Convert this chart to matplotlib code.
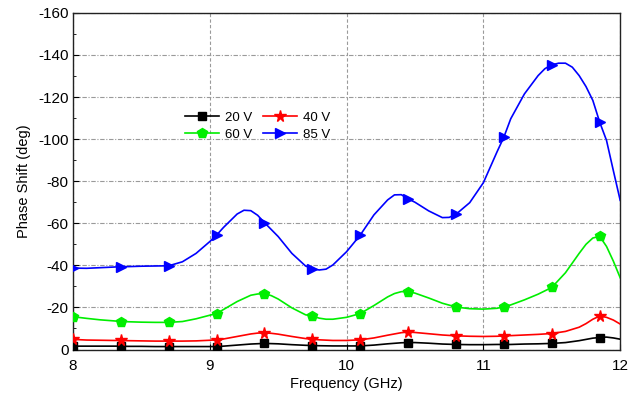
import numpy as np
import matplotlib
matplotlib.use("Agg")
import matplotlib.pyplot as plt
from matplotlib.ticker import MultipleLocator

plt.rcParams['font.family'] = ['Liberation Sans', 'DejaVu Sans']
plt.rcParams['axes.unicode_minus'] = False

# marker positions (GHz) and values read at the markers (deg)
f_mark = [8.0, 8.35, 8.7, 9.05, 9.4, 9.75, 10.1, 10.45, 10.8, 11.15, 11.5, 11.85]
v20_mark = [-1.6, -1.6, -1.4, -1.4, -2.9, -1.9, -1.7, -3.3, -2.4, -2.4, -2.9, -5.7]
v40_mark = [-4.8, -4.3, -4.0, -4.6, -7.9, -4.9, -4.6, -8.3, -6.5, -6.5, -7.6, -15.9]
v60_mark = [-15.6, -13.3, -12.9, -17.1, -26.5, -15.9, -17.1, -27.5, -20.2, -20.3, -29.5, -53.8]
v85_mark = [-38.7, -39.4, -39.8, -54.4, -60.3, -38.4, -54.4, -71.6, -64.3, -101.0, -135.3, -108.1]

# curve read every 0.1 GHz
f_line = [8.0, 8.1, 8.2, 8.3, 8.4, 8.5, 8.6, 8.7, 8.8, 8.9,
          9.0, 9.1, 9.2, 9.3, 9.4, 9.5, 9.6, 9.7, 9.8, 9.9,
          10.0, 10.1, 10.2, 10.3, 10.4, 10.5, 10.6, 10.7, 10.8, 10.9,
          11.0, 11.1, 11.2, 11.3, 11.4, 11.5, 11.6, 11.7, 11.8, 11.9, 12.0]
v20_line = [-1.6, -1.6, -1.6, -1.6, -1.5, -1.5, -1.4, -1.4, -1.4, -1.4,
            -1.4, -1.6, -2.1, -2.6, -2.9, -2.7, -2.3, -2.0, -1.8, -1.7,
            -1.7, -1.7, -2.1, -2.7, -3.2, -3.3, -3.0, -2.6, -2.4, -2.3,
            -2.3, -2.4, -2.4, -2.6, -2.7, -2.9, -3.3, -4.2, -5.4, -5.9, -4.9]
v40_line = [-4.8, -4.5, -4.4, -4.3, -4.2, -4.1, -4.0, -4.0, -4.0, -4.1,
            -4.4, -5.0, -6.2, -7.4, -7.9, -7.3, -6.2, -5.2, -4.6, -4.3,
            -4.3, -4.6, -5.5, -6.8, -8.0, -8.1, -7.5, -6.9, -6.5, -6.3,
            -6.2, -6.3, -6.6, -6.9, -7.2, -7.6, -8.6, -10.6, -14.4, -15.3, -12.1]
v60_line = [-15.6, -14.8, -14.1, -13.6, -13.2, -13.0, -12.9, -12.9, -13.3, -14.6,
            -16.3, -19.0, -22.8, -25.8, -26.5, -24.0, -19.8, -16.5, -14.9, -14.4,
            -15.3, -17.1, -20.9, -25.0, -27.5, -26.8, -24.5, -22.0, -20.2, -19.4,
            -19.2, -19.6, -21.2, -23.6, -26.3, -29.5, -36.5, -45.7, -53.0, -49.0, -34.1]
v85_line = [-38.7, -38.6, -38.9, -39.2, -39.4, -39.6, -39.7, -39.8, -41.7, -45.7,
            -51.3, -58.0, -64.4, -66.0, -60.3, -53.7, -45.7, -39.7, -37.8, -40.2,
            -46.5, -54.4, -64.0, -71.1, -73.6, -70.0, -65.9, -62.7, -64.3, -69.8,
            -79.3, -94.0, -109.7, -121.5, -130.2, -135.3, -136.1, -130.2, -118.4, -99.4, -70.9]

# extra readings near the turning points
f20_extra, v20_extra = [11.85, 11.95], [-5.8, -5.5]
f40_extra, v40_extra = [9.35, 9.45, 10.45, 11.75, 11.95], [-7.8, -7.7, -8.3, -12.3, -14.0]
f60_extra, v60_extra = [9.35, 9.45, 9.85, 10.35, 10.45, 11.75, 11.95], \
                       [-26.4, -25.6, -14.4, -26.6, -27.5, -50.0, -42.0]
f85_extra, v85_extra = [9.25, 9.35, 9.85, 10.35, 10.45, 10.75, 11.45, 11.55, 11.65, 11.75, 11.95], \
                       [-66.2, -63.8, -38.2, -73.5, -71.6, -62.8, -133.5, -136.1, -134.2, -125.0, -85.0]

labels = ['20 V', '40 V', '60 V', '85 V']
colors = ['black', 'red', '#00ee00', 'blue']
markers = ['s', '*', 'p', '>']
msizes = [5.5, 8.5, 7, 7]

fig = plt.figure(figsize=(6.29, 3.96), dpi=100)
ax = fig.add_axes([0.116, 0.1174, 0.870, 0.850])

handles = []
series = zip([v20_line, v40_line, v60_line, v85_line],
             [v20_mark, v40_mark, v60_mark, v85_mark],
             [(f20_extra, v20_extra), (f40_extra, v40_extra), (f60_extra, v60_extra), (f85_extra, v85_extra)],
             labels, colors, markers, msizes)
for vl, vm, (fe, ve), lab, c, mk, ms in series:
    x_all = np.concatenate([f_line, f_mark, fe])
    y_all = np.concatenate([vl, vm, ve])
    o = np.argsort(x_all, kind='stable')
    ax.plot(x_all[o], y_all[o], color=c, lw=1.2, zorder=3)
    ax.plot(f_mark, vm, ls='none', marker=mk, ms=ms, color=c, mec=c, zorder=4)
    h, = ax.plot([], [], color=c, lw=1.2, marker=mk, ms=ms, mec=c, label=lab)
    handles.append(h)

ax.set_xlim(8, 12)
ax.set_ylim(0, -160)
ax.xaxis.set_major_locator(MultipleLocator(1))
ax.yaxis.set_major_locator(MultipleLocator(20))
ax.yaxis.set_minor_locator(MultipleLocator(10))
ax.tick_params(which='major', direction='in', length=4, labelsize=11, pad=3)
ax.tick_params(which='minor', direction='in', length=2)
ax.tick_params(axis='x', pad=7)

ax.xaxis.grid(True, ls=(0, (3, 2)), color='#9a9a9a', lw=0.8)
ax.yaxis.grid(True, ls=(0, (4, 1.5, 1, 1.5)), color='#9a9a9a', lw=0.8)
ax.set_axisbelow(True)

for s in ax.spines.values():
    s.set_linewidth(1.0)
    s.set_color('#222222')

ax.set_xlabel('Frequency (GHz)', fontsize=10.5, labelpad=3)
ax.set_ylabel('Phase Shift (deg)', fontsize=10.5, labelpad=5)

# order so that rows read 20 V / 40 V and 60 V / 85 V
leg = ax.legend([handles[0], handles[2], handles[1], handles[3]],
                [labels[0], labels[2], labels[1], labels[3]],
                ncol=2, frameon=False, fontsize=9.5,
                loc='upper left', bbox_to_anchor=(0.2, 0.715),
                handlelength=2.6, handletextpad=0.45, columnspacing=0.8,
                labelspacing=0.35, borderpad=0.2, borderaxespad=0)

fig.savefig('out.png', dpi=100)
